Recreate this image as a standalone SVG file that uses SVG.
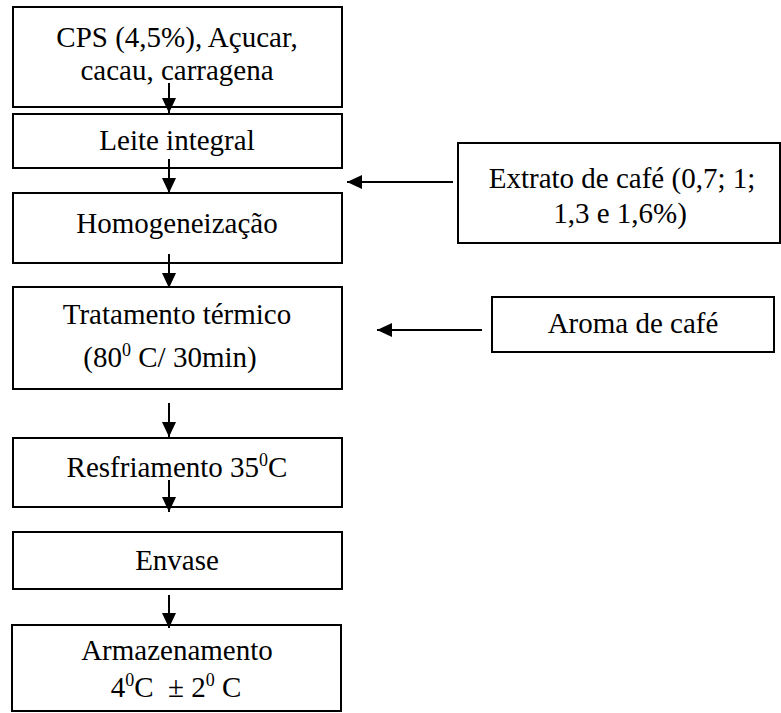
<svg xmlns="http://www.w3.org/2000/svg" width="781" height="713" viewBox="0 0 781 713">
<style>
.box{fill:#fff;stroke:#000;stroke-width:2}
.t{font-family:"Liberation Serif","Times New Roman",serif;font-size:29px;fill:#000;text-anchor:middle}
.sup{font-size:18px}
.conn{stroke:#000;stroke-width:2;fill:none;marker-end:url(#ah)}
</style>
<defs>
<marker id="ah" markerUnits="userSpaceOnUse" markerWidth="16" markerHeight="14" refX="15" refY="7" orient="auto">
<path d="M0,0 L15,7 L0,14 z" fill="#000"/>
</marker>
</defs>
<rect width="781" height="713" fill="#fff"/>
<g id="n1"><rect class="box" x="13" y="7" width="329" height="100"/>
<text class="t" x="177" y="47">CPS (4,5%), Açucar,</text>
<text class="t" x="177" y="80">cacau, carragena</text></g>
<g id="n2"><rect class="box" x="13" y="114" width="329" height="54"/>
<text class="t" x="177" y="150">Leite integral</text></g>
<g id="n3"><rect class="box" x="13" y="193" width="329" height="70"/>
<text class="t" x="177" y="233">Homogeneização</text></g>
<g id="n4"><rect class="box" x="13" y="287" width="329" height="102"/>
<text class="t" x="177" y="324">Tratamento térmico</text>
<text class="t" x="170" y="367">(80<tspan class="sup" dy="-11">0</tspan><tspan dy="11"> C/ 30min)</tspan></text></g>
<g id="n5"><rect class="box" x="13" y="438" width="329" height="69"/>
<text class="t" x="177" y="477">Resfriamento 35<tspan class="sup" dy="-11">0</tspan><tspan dy="11">C</tspan></text></g>
<g id="n6"><rect class="box" x="13" y="532" width="329" height="57"/>
<text class="t" x="177" y="570">Envase</text></g>
<g id="n7"><rect class="box" x="12" y="625" width="329" height="86"/>
<text class="t" x="177" y="660">Armazenamento</text>
<text class="t" x="176" y="697">4<tspan class="sup" dy="-11">0</tspan><tspan dy="11">C&#160; ± 2</tspan><tspan class="sup" dy="-11">0</tspan><tspan dy="11"> C</tspan></text></g>
<g id="n8"><rect class="box" x="458" y="143" width="322" height="100"/>
<text class="t" x="622" y="188">Extrato de café (0,7; 1;</text>
<text class="t" x="620" y="223">1,3 e 1,6%)</text></g>
<g id="n9"><rect class="box" x="492" y="297" width="282" height="55"/>
<text class="t" x="633" y="333">Aroma de café</text></g>
<g id="connectors">
<line class="conn" x1="169" y1="83" x2="169" y2="113"/>
<line class="conn" x1="169" y1="159" x2="169" y2="193"/>
<line class="conn" x1="169" y1="254" x2="169" y2="288"/>
<line class="conn" x1="169" y1="403" x2="169" y2="437"/>
<line class="conn" x1="169" y1="480" x2="169" y2="512"/>
<line class="conn" x1="169" y1="595" x2="169" y2="628"/>
<line class="conn" x1="453" y1="182" x2="347" y2="182"/>
<line class="conn" x1="482" y1="330" x2="377" y2="330"/>
</g>
</svg>
